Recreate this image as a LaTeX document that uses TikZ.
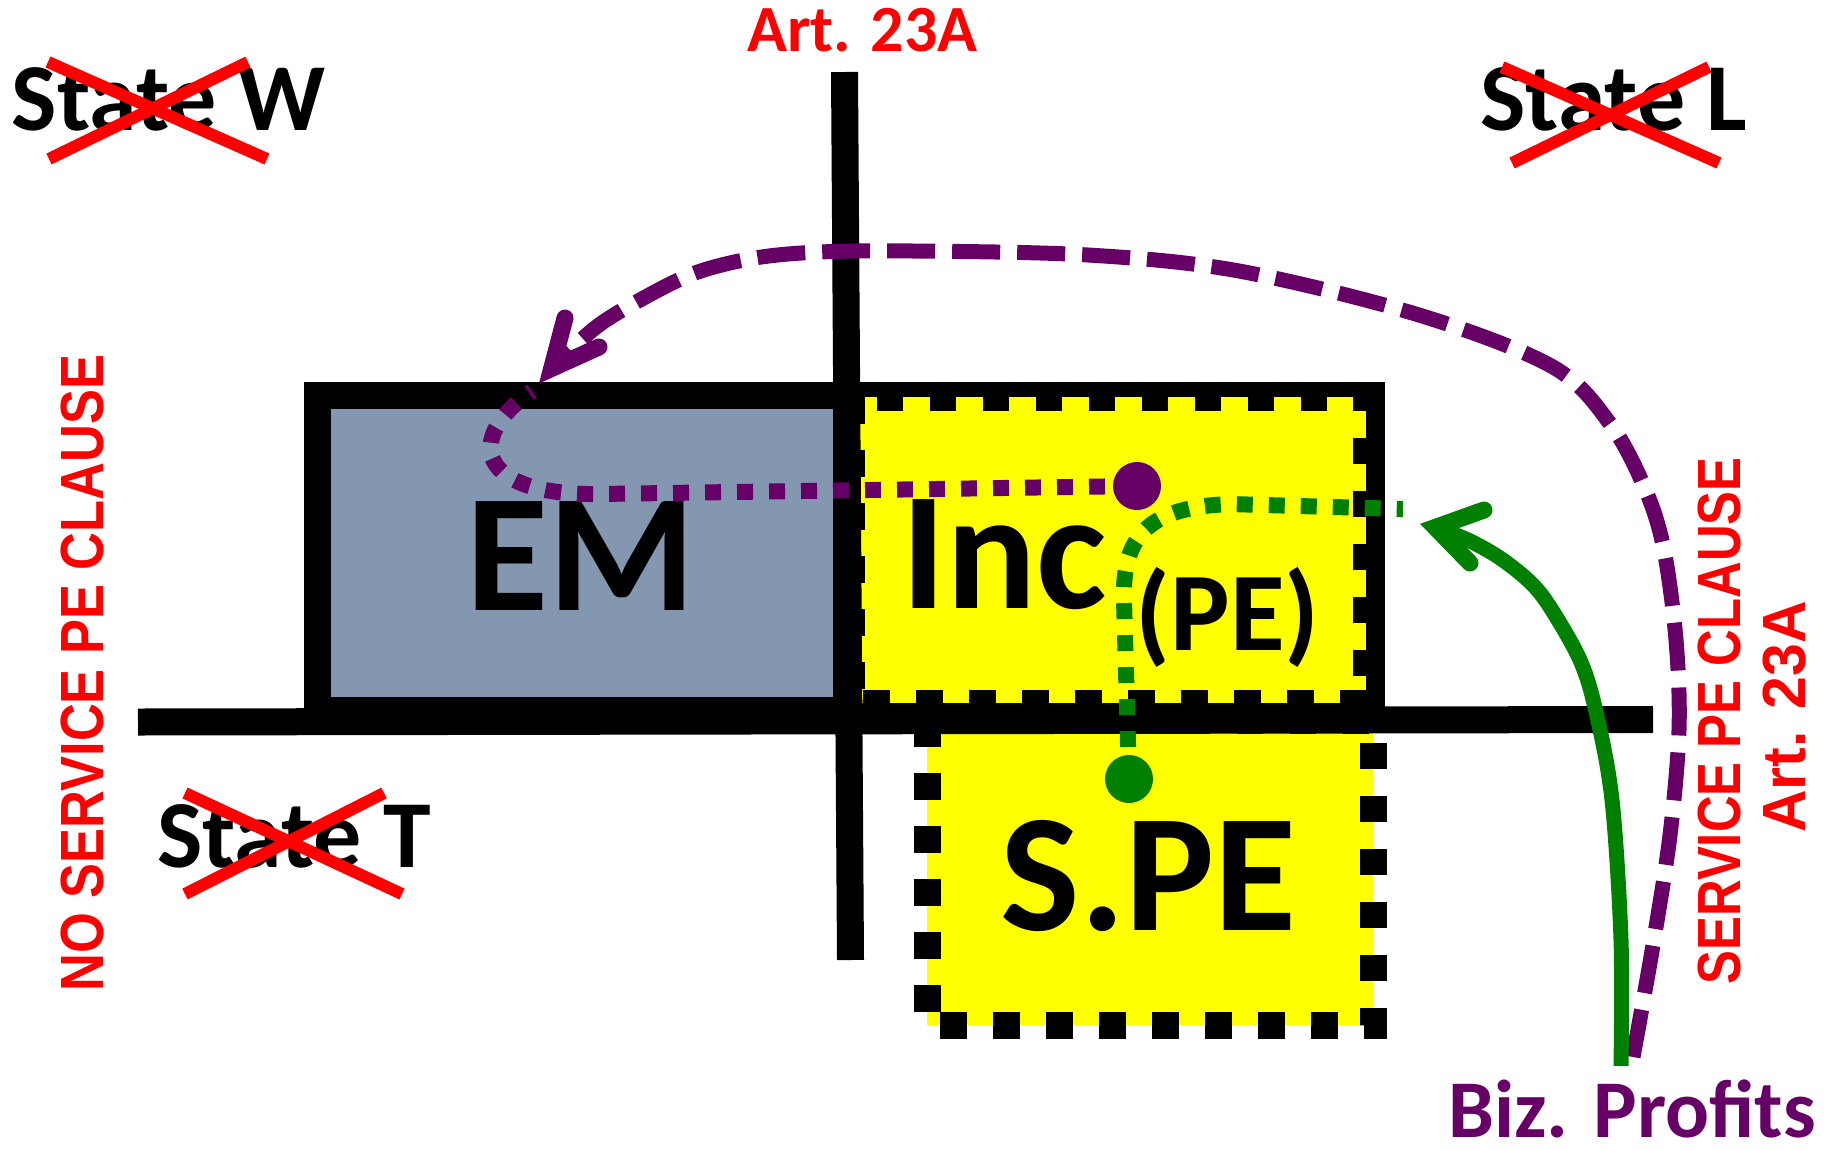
\documentclass[tikz,border=0pt]{standalone}
\usepackage{graphicx}
\usepackage{fontspec}
\setmainfont{Carlito}
\newfontfamily\rotfont{Liberation Sans}
\usetikzlibrary{arrows.meta}
\definecolor{pur}{RGB}{102,0,102}
\definecolor{grn}{RGB}{0,128,0}
\definecolor{emgray}{RGB}{132,151,176}
\definecolor{yel}{RGB}{255,255,0}
\definecolor{xred}{RGB}{255,0,0}
\newcommand\myfs[1]{\fontsize{#1}{#1}\selectfont}
\begin{document}
\begin{tikzpicture}[x=1pt,y=-1pt,
  txt/.style={inner sep=0pt, anchor=base},
  xmark/.style={xred, line width=12pt},
  pebox/.style={fill=yel, draw=black, line width=27pt, dash pattern=on 26.5pt off 26.5pt},
  border/.style={draw=black, line width=27pt},
  thickline/.style={black, line width=27pt},
  pdots/.style={pur, line width=16pt, dash pattern=on 16pt off 16pt},
  gdots/.style={grn, line width=16pt, dash pattern=on 16pt off 16pt},
  barbhead/.style={line width=17pt, line cap=round, line join=miter},
  rot/.style={rotate=90, inner sep=0pt, text=xred, font=\rotfont\myfs{61}\bfseries},
  big/.style={txt, font=\myfs{168}\bfseries},
  st/.style={txt, font=\myfs{96}\bfseries}]
\useasboundingbox (0,0) rectangle (1826,1149);
% boxes
\draw[border, fill=emgray] (317.5,395) rectangle (846,710);
\draw[border] (846,395.5) rectangle (1371.5,710);
\draw[pebox] (851,397) rectangle (1366,703);
\draw[pebox] (927,720) rectangle (1373,1025);
% axes
\coordinate (vtop) at (844.5,72);
\coordinate (vbot) at (850.5,960);
\coordinate (hl) at (138,722);
\coordinate (hr) at (1653,719.5);
\draw[thickline] (vtop) -- (vbot);
\draw[thickline] (hl) -- (hr);
% box labels
\node[big] (em) at (581,610) {EM};
\node[big] (inc) at (1004.5,608) {Inc};
\node[txt, font=\myfs{112}\bfseries] (pe) at (1227.5,650) {(PE)};
\node[big] (spe) at (1148.5,930) {S.PE};
% dots and dotted flows
\coordinate (pdotc) at (1137,486);
\coordinate (gdotc) at (1129,779);
\coordinate (emin) at (532,391);
\coordinate (gend) at (1403,509);
\draw[pdots] (pdotc) -- (600,494) .. controls (478,496) and (462,440) .. (emin);
\draw[gdots] (gdotc) -- (1124,600) .. controls (1122,535) and (1150,507) .. (1230,504) -- (gend);
\node[circle, fill=pur, minimum size=48pt, inner sep=0pt] (pdot) at (pdotc) {};
\node[circle, fill=grn, minimum size=48pt, inner sep=0pt] (gdot) at (gdotc) {};
% Biz. Profits flows
\node[txt, font=\myfs{82}\bfseries, text=pur] (biz) at (1632,1137) {Biz. Profits};
\coordinate (bizP) at (1633,1057);
\coordinate (bizG) at (1621,1066);
\coordinate (emTop) at (551.7,368.4);
\coordinate (pb1) at (565,318);
\coordinate (pb2) at (599,347);
\coordinate (gtip) at (1435.4,527.4);
\coordinate (gb1) at (1484,510);
\coordinate (gb2) at (1470,563);
\draw[pur, line width=15pt, dash pattern=on 48pt off 17pt]
  plot[smooth, tension=0.55] coordinates {(bizP) (1653,945) (1670,835) (1679,730) (1676,640) (1664,550) (1646,491) (1611,425) (1553,367) (1419,315) (1239,271) (1088,255) (913,251) (820,252) (755,258) (695,273) (640,300) (595,328) (emTop)};
\draw[pur, barbhead] (pb1) -- (emTop) -- (pb2);
\draw[grn, line width=15pt]
  plot[smooth, tension=0.55] coordinates {(bizG) (1621,940) (1612,800) (1596,712) (1580,660) (1550,607) (1530,582) (1500,558) (1468,540) (gtip)};
\draw[grn, barbhead] (gb1) -- (gtip) -- (gb2);
% state labels
\node[st] (stateW) at (168.5,130) {State W};
\node[st] (stateL) at (1614,130) {State L};
\node[st] (stateT) at (294,867) {State T};
\draw[xmark] (48,62) -- (267,159);
\draw[xmark] (248,62) -- (49,159);
\draw[xmark] (1502,67) -- (1719,163);
\draw[xmark] (1709,67) -- (1512,163);
\draw[xmark] (185,793) -- (402,894);
\draw[xmark] (384,793) -- (185,894);
% red labels
\node[txt, font=\myfs{66}\bfseries, text=xred] (art) at (862.5,51) {Art. 23A};
\node[rot] (noserv) at (83,673) {\scalebox{0.86}[1]{NO SERVICE PE CLAUSE}};
\node[rot] (serv) at (1719.5,721) {\scalebox{0.833}[1]{SERVICE PE CLAUSE}};
\node[rot] (art2) at (1785,717) {\scalebox{0.966}[1]{Art. 23A}};
\end{tikzpicture}
\end{document}
